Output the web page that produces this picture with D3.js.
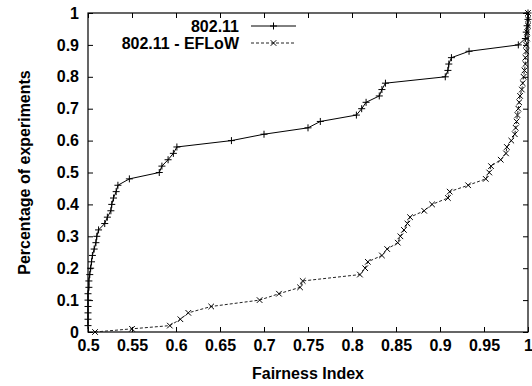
<!DOCTYPE html>
<html>
<head>
<meta charset="utf-8">
<script src="https://cdn.jsdelivr.net/npm/d3@7/dist/d3.min.js"></script>
<style>
  html, body { margin: 0; padding: 0; background: #fff; }
  svg { display: block; }
  text { font-family: "Liberation Sans", Arial, Helvetica, sans-serif; font-weight: bold; fill: #000; }
</style>
</head>
<body>
<svg id="chart" width="532" height="386"></svg>
<script>
// ---- data ----
const seriesNames = ["802.11", "802.11 - EFLoW"];
const wifiX = [0.500,0.500,0.500,0.500,0.500,0.500,0.501,0.501,0.502,0.503,0.504,0.505,0.507,0.509,0.510,0.512,0.519,0.522,0.526,0.527,0.529,0.532,0.534,0.547,0.581,0.584,0.591,0.597,0.601,0.663,0.700,0.750,0.764,0.805,0.811,0.816,0.831,0.834,0.838,0.906,0.909,0.910,0.913,0.933,0.989,0.997,0.998,0.999,1.000,1.000];
const wifiY = [0.02,0.04,0.06,0.08,0.10,0.12,0.14,0.16,0.18,0.20,0.22,0.24,0.26,0.28,0.30,0.32,0.34,0.36,0.38,0.40,0.42,0.44,0.46,0.48,0.50,0.52,0.54,0.56,0.58,0.60,0.62,0.64,0.66,0.68,0.70,0.72,0.74,0.76,0.78,0.80,0.82,0.84,0.86,0.88,0.90,0.92,0.94,0.96,0.98,1.00];
const eflowX = [0.508,0.550,0.593,0.605,0.614,0.640,0.695,0.717,0.741,0.744,0.809,0.815,0.818,0.834,0.840,0.852,0.855,0.859,0.863,0.866,0.882,0.891,0.909,0.911,0.932,0.952,0.956,0.958,0.969,0.975,0.976,0.981,0.985,0.986,0.987,0.988,0.989,0.990,0.991,0.993,0.994,0.995,0.996,0.997,0.997,0.998,0.998,0.999,0.999,1.000,1.000,1.000];
const eflowY = [0.00,0.01,0.02,0.04,0.06,0.08,0.10,0.12,0.14,0.16,0.18,0.20,0.22,0.24,0.26,0.28,0.30,0.32,0.34,0.36,0.38,0.40,0.42,0.44,0.46,0.48,0.50,0.52,0.54,0.56,0.58,0.60,0.62,0.64,0.66,0.68,0.70,0.72,0.74,0.76,0.78,0.80,0.82,0.84,0.86,0.88,0.90,0.92,0.94,0.96,0.98,1.00];
const xTicks = [0.5,0.55,0.6,0.65,0.7,0.75,0.8,0.85,0.9,0.95,1];
const yTicks = [0,0.1,0.2,0.3,0.4,0.5,0.6,0.7,0.8,0.9,1];
const xTitle = "Fairness Index";
const yTitle = "Percentage of experiments";

// ---- layout ----
const L = 88, R = 528, T = 13, B = 332;
const svg = d3.select("#chart");
const x = d3.scaleLinear().domain([0.5, 1]).range([L, R]);
const y = d3.scaleLinear().domain([0, 1]).range([B, T]);
const fmt = d => String(+d.toFixed(2));
const tick = 5;

function styleAxis(g, showText) {
  g.select(".domain").remove();
  g.selectAll(".tick line").attr("stroke", "#000").attr("stroke-width", 1);
  g.selectAll(".tick text").attr("font-size", 16).attr("font-family", null).attr("fill", "#000");
  if (!showText) g.selectAll(".tick text").remove();
}

svg.append("g").attr("transform", `translate(0,${B})`)
  .call(d3.axisBottom(x).tickValues(xTicks).tickFormat(fmt).tickSizeInner(-tick).tickSizeOuter(0).tickPadding(8))
  .call(g => styleAxis(g, true));
svg.append("g").attr("transform", `translate(0,${T})`)
  .call(d3.axisTop(x).tickValues(xTicks).tickFormat(fmt).tickSizeInner(-tick).tickSizeOuter(0))
  .call(g => styleAxis(g, false));
svg.append("g").attr("transform", `translate(${L},0)`)
  .call(d3.axisLeft(y).tickValues(yTicks).tickFormat(fmt).tickSizeInner(-tick).tickSizeOuter(0).tickPadding(9))
  .call(g => styleAxis(g, true));
svg.append("g").attr("transform", `translate(${R},0)`)
  .call(d3.axisRight(y).tickValues(yTicks).tickFormat(fmt).tickSizeInner(-tick).tickSizeOuter(0))
  .call(g => styleAxis(g, false));

svg.selectAll("g text").attr("font-family", "Liberation Sans, Arial, sans-serif").attr("font-weight", "bold");

// frame
svg.append("rect").attr("x", L).attr("y", T).attr("width", R - L).attr("height", B - T)
  .attr("fill", "none").attr("stroke", "#000").attr("stroke-width", 1.2);

// titles
svg.append("text").attr("x", (L + R) / 2).attr("y", 379).attr("text-anchor", "middle")
  .attr("font-size", 16).text(xTitle);
svg.append("text").attr("transform", `translate(24,${(T + B) / 2}) rotate(-90)`)
  .attr("text-anchor", "middle").attr("dominant-baseline", "central")
  .attr("font-size", 16).text(yTitle);

// series
const wifi = wifiX.map((v, i) => [v, wifiY[i]]);
const eflow = eflowX.map((v, i) => [v, eflowY[i]]);
const line = d3.line().x(d => x(d[0])).y(d => y(d[1]));

const plot = svg.append("g");
plot.append("path").datum(eflow).attr("d", line).attr("fill", "none")
  .attr("stroke", "#222").attr("stroke-width", 1).attr("stroke-dasharray", "3,2");
plot.append("path").datum(wifi).attr("d", line).attr("fill", "none")
  .attr("stroke", "#000").attr("stroke-width", 1);

const plusPath = s => `M${-s},0H${s}M0,${-s}V${s}`;
const crossPath = s => `M${-s},${-s}L${s},${s}M${-s},${s}L${s},${-s}`;

plot.selectAll(".pm").data(wifi).join("path").attr("class", "pm")
  .attr("transform", d => `translate(${x(d[0])},${y(d[1])})`)
  .attr("d", plusPath(3.5)).attr("stroke", "#000").attr("stroke-width", 1).attr("fill", "none");
plot.selectAll(".xm").data(eflow).join("path").attr("class", "xm")
  .attr("transform", d => `translate(${x(d[0])},${y(d[1])})`)
  .attr("d", crossPath(2.8)).attr("stroke", "#000").attr("stroke-width", 1).attr("fill", "none");

// legend
const legY = [26, 43];
const legText = 239, legX1 = 251, legX2 = 296, legM = 273.5;
const leg = svg.append("g");
seriesNames.forEach((name, i) => {
  leg.append("text").attr("x", legText).attr("y", legY[i]).attr("text-anchor", "end")
    .attr("dominant-baseline", "central").attr("font-size", 16).text(name);
  leg.append("line").attr("x1", legX1).attr("x2", legX2).attr("y1", legY[i]).attr("y2", legY[i])
    .attr("stroke", i === 0 ? "#000" : "#222").attr("stroke-width", 1)
    .attr("stroke-dasharray", i === 0 ? null : "3,2");
  leg.append("path").attr("transform", `translate(${legM},${legY[i]})`)
    .attr("d", i === 0 ? plusPath(3.5) : crossPath(2.8))
    .attr("stroke", "#000").attr("stroke-width", 1).attr("fill", "none");
});
</script>
</body>
</html>
